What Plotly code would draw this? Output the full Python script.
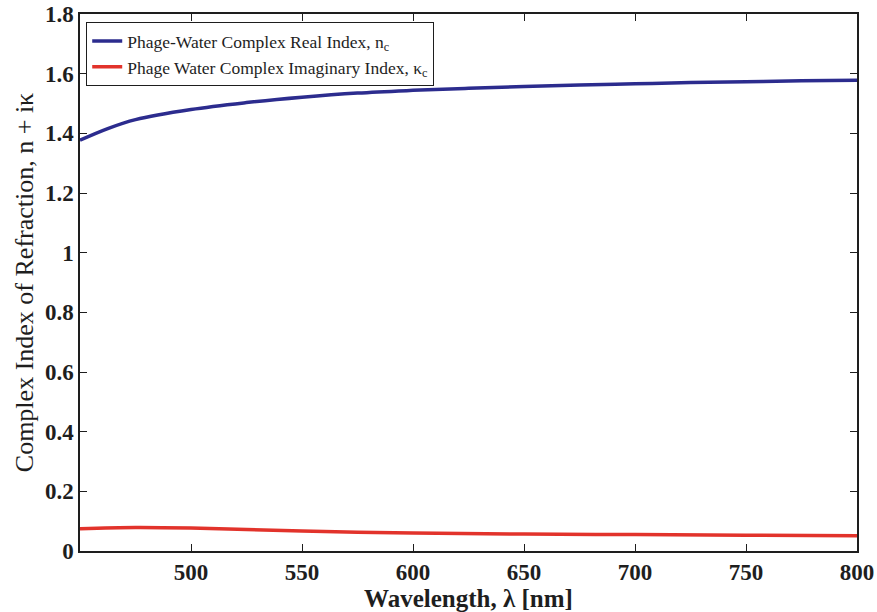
import plotly.graph_objects as go

wl_real = [450, 462.5, 475, 500, 525, 550, 575, 600, 625, 650, 675, 700, 725, 750, 775, 800]
n_real = [1.377, 1.416, 1.446, 1.48, 1.503, 1.521, 1.535, 1.544, 1.551, 1.557, 1.562, 1.566, 1.570, 1.573, 1.576, 1.578]

wl_imag = [450, 475, 500, 525, 550, 575, 600, 650, 700, 750, 800]
k_imag = [0.075, 0.079, 0.077, 0.072, 0.067, 0.063, 0.060, 0.057, 0.055, 0.053, 0.051]

x_ticks = [500, 550, 600, 650, 700, 750, 800]
y_ticks = [0, 0.2, 0.4, 0.6, 0.8, 1.0, 1.2, 1.4, 1.6, 1.8]
y_labels = ["0", "0.2", "0.4", "0.6", "0.8", "1", "1.2", "1.4", "1.6", "1.8"]

font = "Liberation Serif"
ink = "#1e1e1e"

fig = go.Figure()
fig.add_trace(go.Scatter(x=wl_real, y=n_real, mode="lines", line=dict(color="#2c2c8e", width=3.5, shape="spline"),
                         name="Phage-Water Complex Real Index, n<sub>c</sub>"))
fig.add_trace(go.Scatter(x=wl_imag, y=k_imag, mode="lines", line=dict(color="#e2332b", width=3.5, shape="spline"),
                         name="Phage Water Complex Imaginary Index, κ<sub>c</sub>"))

axis_common = dict(showgrid=False, zeroline=False, showline=True, linecolor=ink, linewidth=1.5,
                   mirror="ticks", ticks="inside", ticklen=7, tickcolor=ink, automargin=False,
                   tickfont=dict(family=font, size=23, color=ink, weight="bold"))

fig.update_layout(
    width=877, height=612,
    margin=dict(l=80, r=20, t=14, b=61),
    paper_bgcolor="white", plot_bgcolor="white",
    showlegend=True,
    legend=dict(x=0.008, y=0.985, xanchor="left", yanchor="top", bordercolor=ink, borderwidth=1,
                bgcolor="white", font=dict(family=font, size=17.5, color=ink),
                tracegroupgap=0),
    xaxis=dict(range=[450, 800], tickvals=x_ticks,
               title=dict(text="<b>Wavelength, λ [nm]</b>", font=dict(family=font, size=25, color=ink), standoff=0),
               **axis_common),
    yaxis=dict(range=[0, 1.8], tickvals=y_ticks, ticktext=y_labels,
               title=dict(text="Complex Index of Refraction, n + iκ", font=dict(family=font, size=26, color=ink), standoff=4),
               **axis_common),
)

fig.write_html("out.html")
